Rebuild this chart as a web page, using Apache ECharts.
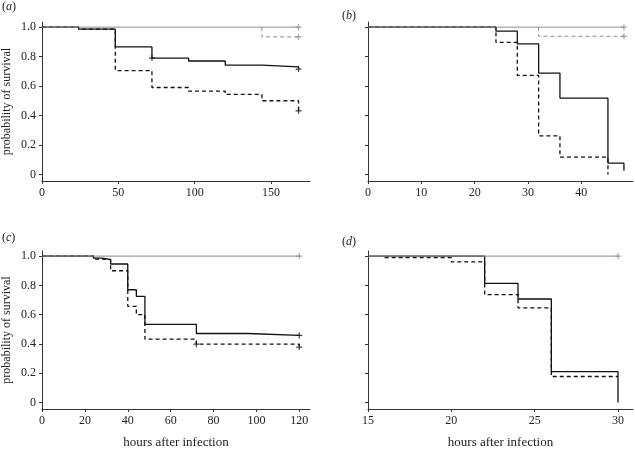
<!DOCTYPE html>
<html><head><meta charset="utf-8">
<script src="https://cdn.jsdelivr.net/npm/echarts@6/dist/echarts.min.js"></script>
<style>html,body{margin:0;padding:0;background:#fff}#c{width:635px;height:450px}</style>
</head><body><div id="c"></div>
<script>
// ---- tick labels ----
const yTicks = [0, 0.2, 0.4, 0.6, 0.8, 1.0];
const aXTicks = [0, 50, 100, 150];
const bXTicks = [0, 10, 20, 30, 40];
const cXTicks = [0, 20, 40, 60, 80, 100, 120];
const dXTicks = [15, 20, 25, 30];

// ---- panel (a) ----
const aTimes = [0, 24, 48, 72, 96, 120, 144, 168];
const aSolid = [1, 0.986, 0.866, 0.79, 0.77, 0.742, 0.73, 0.715];
const aDashed = [1, 0.986, 0.705, 0.59, 0.565, 0.543, 0.50, 0.432];
const aGreyTimes = [0, 168];
const aGreySolid = [1, 1];
const aGreyDashTimes = [144, 144, 168];
const aGreyDashed = [1, 0.934, 0.934];
const aCensorBlack = [[72, 0.79], [168, 0.715], [168, 0.432]];
const aCensorGrey = [[168, 1], [168, 0.934]];

// ---- panel (b) ----
const bTimes = [0, 24, 28, 32, 36, 45, 48];
const bSolid = [1, 0.973, 0.886, 0.688, 0.518, 0.076, 0.025];
const bDashTimes = [0, 24, 28, 32, 36, 45];
const bDashed = [1, 0.896, 0.672, 0.262, 0.117, 0];
const bGreyTimes = [0, 48];
const bGreySolid = [1, 1];
const bGreyDashTimes = [32, 32, 48];
const bGreyDashed = [1, 0.938, 0.938];
const bCensorGrey = [[48, 1], [48, 0.938]];

// ---- panel (c) ----
const cTimes = [0, 24, 28, 32, 40, 44, 48, 72, 96, 120];
const cSolid = [1, 0.986, 0.977, 0.946, 0.77, 0.725, 0.534, 0.471, 0.458, 0.458];
const cDashed = [1, 0.98, 0.975, 0.90, 0.657, 0.60, 0.432, 0.398, 0.398, 0.378];
const cGreyTimes = [0, 120];
const cGreySolid = [1, 1];
const cCensorBlack = [[120, 0.458], [72, 0.398], [120, 0.378]];
const cCensorGrey = [[120, 1]];

// ---- panel (d) ----
const dSolidTimes = [15, 22, 24, 26, 30];
const dSolid = [1, 0.814, 0.707, 0.211, 0];
const dDashTimes = [16, 20, 22, 24, 26, 30];
const dDashed = [0.99, 0.96, 0.737, 0.646, 0.177, 0.177];
const dGreyTimes = [15, 30];
const dGreySolid = [1, 1];
const dCensorGrey = [[30, 1]];

const FONT = 'Liberation Serif';
const AXIS_COLOR = '#333';
const BLACK = '#111';
const GREY = '#8c8c8c';
const PLUS = 'path://M4,0H6V4H10V6H6V10H4V6H0V4H4Z';

const zip = (t, v) => t.map((x, i) => [x, v[i]]);

const grids = [
  {left: 42, top: 22, width: 268, height: 159},
  {left: 368, top: 22, width: 265, height: 159},
  {left: 42, top: 251, width: 268, height: 159},
  {left: 368, top: 251, width: 265, height: 159}
];
const xRanges = [[0, 175.5], [0, 49.7], [0, 125], [15, 30.9]];
const xTickSets = [aXTicks, bXTicks, cXTicks, dXTicks];

const xAxes = grids.map((g, i) => ({
  type: 'value', gridIndex: i, min: xRanges[i][0], max: xRanges[i][1],
  axisLine: {onZero: false, lineStyle: {color: AXIS_COLOR, width: 1}},
  axisTick: {length: 3, customValues: xTickSets[i], lineStyle: {color: AXIS_COLOR}},
  axisLabel: {customValues: xTickSets[i], margin: 6, color: '#222', fontFamily: FONT, fontSize: 12},
  splitLine: {show: false},
  name: i >= 2 ? 'hours after infection' : '',
  nameLocation: 'middle', nameGap: 27,
  nameTextStyle: {color: '#222', fontFamily: FONT, fontSize: 13}
}));
const yAxes = grids.map((g, i) => ({
  type: 'value', gridIndex: i, min: -0.045, max: 1.035,
  axisLine: {show: true, onZero: false, lineStyle: {color: AXIS_COLOR, width: 1}},
  axisTick: {show: true, length: 3, customValues: yTicks, lineStyle: {color: AXIS_COLOR}},
  axisLabel: {show: i % 2 === 0, customValues: yTicks, margin: 6, color: '#222', fontFamily: FONT, fontSize: 12,
    formatter: v => v === 0 ? '0' : v.toFixed(1)},
  splitLine: {show: false},
  name: i % 2 === 0 ? 'probability of survival' : '',
  nameLocation: 'middle', nameGap: 29,
  nameTextStyle: {color: '#222', fontFamily: FONT, fontSize: 12}
}));

function line(gi, data, color, dashed, z, width) {
  return {type: 'line', xAxisIndex: gi, yAxisIndex: gi, data: data, step: 'end',
    showSymbol: false, symbol: 'none', z: z, silent: true,
    lineStyle: {color: color, width: width, type: dashed ? [4, 3] : 'solid'}};
}
function censor(gi, data, color, z) {
  return {type: 'scatter', xAxisIndex: gi, yAxisIndex: gi, data: data, symbol: PLUS,
    symbolSize: 6, z: z, silent: true, itemStyle: {color: color}};
}

const series = [
  line(0, zip(aGreyDashTimes, aGreyDashed), GREY, true, 1, 1),
  line(0, zip(aTimes, aSolid), BLACK, false, 2, 1.3),
  line(0, zip(aTimes, aDashed), BLACK, true, 2, 1.3),
  line(0, zip(aGreyTimes, aGreySolid), GREY, false, 3, 1),
  censor(0, aCensorBlack, BLACK, 4),
  censor(0, aCensorGrey, GREY, 4),

  line(1, zip(bGreyDashTimes, bGreyDashed), GREY, true, 1, 1),
  line(1, zip(bTimes, bSolid), BLACK, false, 2, 1.3),
  line(1, zip(bDashTimes, bDashed), BLACK, true, 2, 1.3),
  line(1, zip(bGreyTimes, bGreySolid), GREY, false, 3, 1),
  censor(1, bCensorGrey, GREY, 4),

  line(2, zip(cTimes, cSolid), BLACK, false, 2, 1.3),
  line(2, zip(cTimes, cDashed), BLACK, true, 2, 1.3),
  line(2, zip(cGreyTimes, cGreySolid), GREY, false, 3, 1),
  censor(2, cCensorBlack, BLACK, 4),
  censor(2, cCensorGrey, GREY, 4),

  line(3, zip(dSolidTimes, dSolid), BLACK, false, 2, 1.3),
  line(3, zip(dDashTimes, dDashed), BLACK, true, 2, 1.3),
  line(3, zip(dGreyTimes, dGreySolid), GREY, false, 3, 1),
  censor(3, dCensorGrey, GREY, 4)
];

const rich = {
  n: {fontFamily: FONT, fontSize: 12, fontWeight: 'normal', color: '#222'},
  i: {fontFamily: FONT, fontSize: 12, fontWeight: 'normal', fontStyle: 'italic', color: '#222'}
};
const panelTitle = (letter, left, top) => ({
  text: '{n|(}{i|' + letter + '}{n|)}', left: left, top: top, padding: 0,
  textStyle: {rich: rich, fontSize: 12, fontWeight: 'normal', fontFamily: FONT}
});

const chart = echarts.init(document.getElementById('c'), null, {renderer: 'canvas'});
chart.setOption({
  animation: false,
  backgroundColor: '#fff',
  title: [panelTitle('a', 2, 1), panelTitle('b', 342, 10), panelTitle('c', 2, 232), panelTitle('d', 342, 236)],
  grid: grids,
  xAxis: xAxes,
  yAxis: yAxes,
  series: series
});
</script></body></html>
